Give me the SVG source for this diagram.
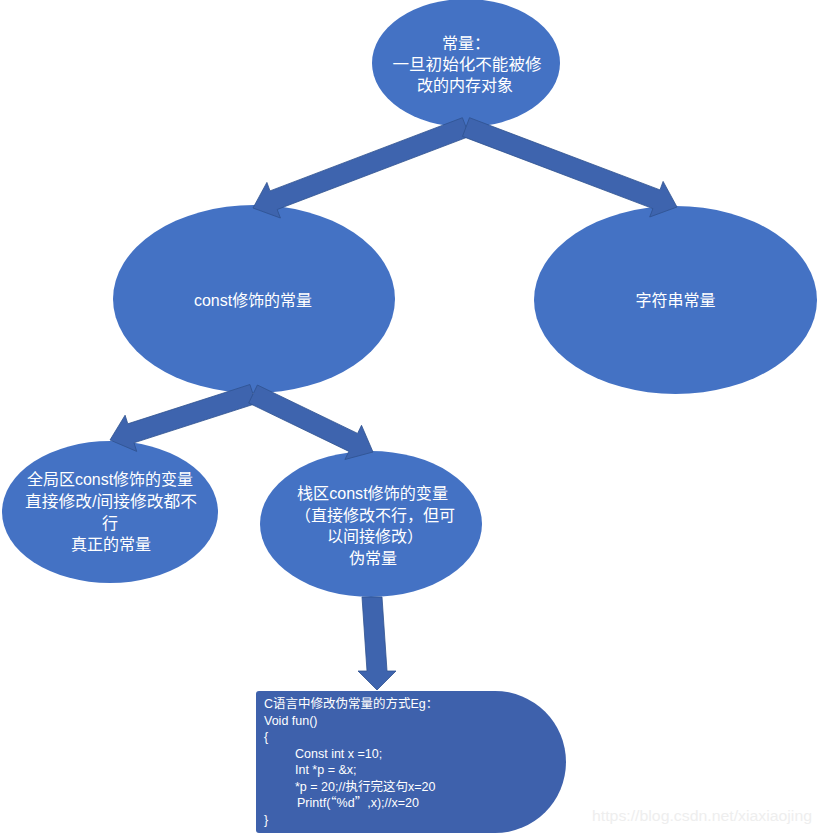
<svg xmlns="http://www.w3.org/2000/svg" width="821" height="835" viewBox="0 0 821 835">
<style>
.node{fill:#4472C4;}
.conn polygon{fill:#3E64AE;stroke:#2F528F;stroke-width:0.8;stroke-linejoin:miter;}
.t{font-family:"Liberation Sans","Noto Sans CJK SC",sans-serif;font-size:16px;fill:#ffffff;text-anchor:middle;}
.c{font-family:"Liberation Sans","Noto Sans CJK SC",sans-serif;font-size:12.5px;fill:#ffffff;}
.q{font-family:"Noto Sans CJK SC",sans-serif;}
.wm{font-family:"Liberation Sans","Noto Sans",sans-serif;font-size:14px;fill:#eeeeee;}
</style>
<rect width="821" height="835" fill="#ffffff"/>
<g id="node-root">
<ellipse class="node" cx="466" cy="63" rx="94" ry="64"/>
<text class="t" x="466" y="49">常量：</text>
<text class="t" x="467" y="70" textLength="149" lengthAdjust="spacingAndGlyphs">一旦初始化不能被修</text>
<text class="t" x="465" y="91">改的内存对象</text>
</g>
<g id="node-const">
<ellipse class="node" cx="254" cy="299" rx="141" ry="94"/>
<text class="t" x="253" y="306" textLength="118" lengthAdjust="spacingAndGlyphs">const修饰的常量</text>
</g>
<g id="node-string">
<ellipse class="node" cx="675.5" cy="300" rx="141.5" ry="94"/>
<text class="t" x="675.5" y="306">字符串常量</text>
</g>
<g id="node-global">
<ellipse class="node" cx="110" cy="512" rx="108" ry="71"/>
<text class="t" x="110" y="485" textLength="166" lengthAdjust="spacingAndGlyphs">全局区const修饰的变量</text>
<text class="t" x="111" y="507" textLength="172" lengthAdjust="spacingAndGlyphs">直接修改/间接修改都不</text>
<text class="t" x="110" y="529">行</text>
<text class="t" x="111" y="550">真正的常量</text>
</g>
<g id="node-stack">
<ellipse class="node" cx="371" cy="524" rx="111" ry="73"/>
<text class="t" x="372.5" y="499" textLength="151" lengthAdjust="spacingAndGlyphs">栈区const修饰的变量</text>
<text class="t" x="375" y="521">（直接修改不行，但可</text>
<text class="t" x="375" y="542">以间接修改）</text>
<text class="t" x="373" y="564">伪常量</text>
</g>
<g id="node-code">
<path d="M259,691 H495 A71,71 0 0 1 495,833 H259 Q256,833 256,830 V694 Q256,691 259,691 Z" fill="#3E61AC"/>
<text class="c" x="264" y="708">C语言中修改伪常量的方式Eg：</text>
<text class="c" x="264" y="725">Void fun()</text>
<text class="c" x="264" y="741">{</text>
<text class="c" x="295" y="757.5">Const int x =10;</text>
<text class="c" x="295" y="774">Int *p = &amp;x;</text>
<text class="c" x="295" y="790.5">*p = 20;//执行完这句x=20</text>
<text class="c" x="297" y="807">Printf(<tspan class="q">“</tspan>%d<tspan class="q">”</tspan>,x);//x=20</text>
<text class="c" x="264" y="823.5">}</text>
</g>
<g id="connectors" class="conn">
<polygon points="469.6,136.3 277.2,209.5 280.4,218 253,208 266.9,182.4 270,190.9 462.4,117.7"/>
<polygon points="462.5,136.4 652.9,208.6 649.7,217 677,207 663.1,181.4 660,189.9 469.5,117.7"/>
<polygon points="256.1,403.5 134,442.8 136.7,451.4 110,440 125.1,415.2 127.8,423.8 249.9,384.5"/>
<polygon points="248.7,403 348.9,451.4 344.9,459.5 373,452 361.5,425.3 357.6,433.4 257.4,385"/>
<polygon points="362,597 382,597 387,671 396,671 377,690 358,671 367,671"/>
</g>
<text class="wm" x="592" y="821" textLength="220" lengthAdjust="spacingAndGlyphs">https://blog.csdn.net/xiaxiaojing</text>
</svg>
